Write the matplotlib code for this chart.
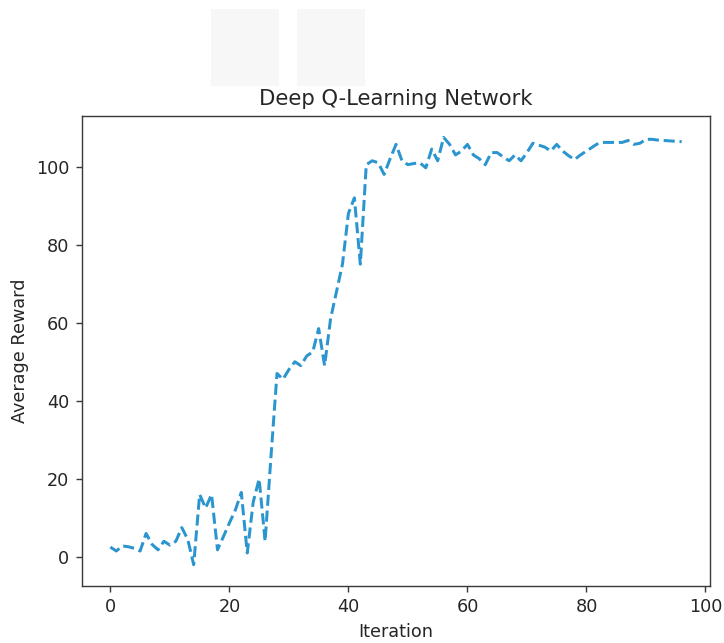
import matplotlib
matplotlib.use("Agg")
import matplotlib.pyplot as plt
from matplotlib.patches import Rectangle

# average reward per iteration
iterations = list(range(97))
avg_reward = [
    2.5, 1.5, 2.8, 2.6, 2.2, 1.5, 6.0, 3.2, 1.8, 4.0,
    3.0, 4.0, 7.5, 4.5, -2.0, 16.0, 12.5, 16.0, 1.8, 5.2,
    8.7, 12.0, 16.5, 1.0, 14.0, 20.0, 4.0, 26.0, 47.0, 45.5,
    48.0, 50.0, 49.0, 51.5, 52.5, 58.5, 49.0, 61.0, 68.0, 75.0,
    88.0, 92.0, 75.0, 100.5, 101.5, 101.0, 98.0, 102.0, 105.7, 101.5,
    100.5, 100.8, 101.0, 99.7, 104.5, 101.5, 107.5, 105.7, 103.0, 104.0,
    105.7, 103.0, 102.0, 100.5, 103.6, 103.6, 102.5, 101.5, 103.0, 101.5,
    103.6, 106.0, 105.5, 105.0, 104.0, 105.7, 104.0, 102.8, 101.8, 103.0,
    104.0, 105.0, 106.0, 106.2, 106.2, 106.2, 106.2, 106.7, 105.7, 106.0,
    107.0, 107.0, 106.8, 106.7, 106.6, 106.5, 106.4,
]

ink = "#262626"
plt.rcParams.update({
    "text.color": ink,
    "axes.labelcolor": ink,
    "axes.edgecolor": "#3a3a3a",
    "xtick.color": "#3a3a3a",
    "ytick.color": "#3a3a3a",
    "xtick.labelcolor": ink,
    "ytick.labelcolor": ink,
})

fig = plt.figure(figsize=(724 / 127, 643 / 127), dpi=127)
ax = fig.add_axes([0.113, 0.0886, 0.868, 0.731])

# faint grey blocks at the top of the original screenshot
for x0 in (212, 298):
    fig.patches.append(Rectangle((x0 / 724, 1 - 85 / 643), 66 / 724, 75 / 643,
                                 transform=fig.transFigure, color="#f7f7f7", zorder=0))

ax.plot(iterations, avg_reward, linestyle="--", color="#2b95cf", linewidth=1.7)
ax.set_title("Deep Q-Learning Network")
ax.set_xlabel("Iteration")
ax.set_ylabel("Average Reward")
ax.set_xticks([0, 20, 40, 60, 80, 100])
ax.set_yticks([0, 20, 40, 60, 80, 100])

fig.savefig("out.png", dpi=127)
plt.close(fig)
